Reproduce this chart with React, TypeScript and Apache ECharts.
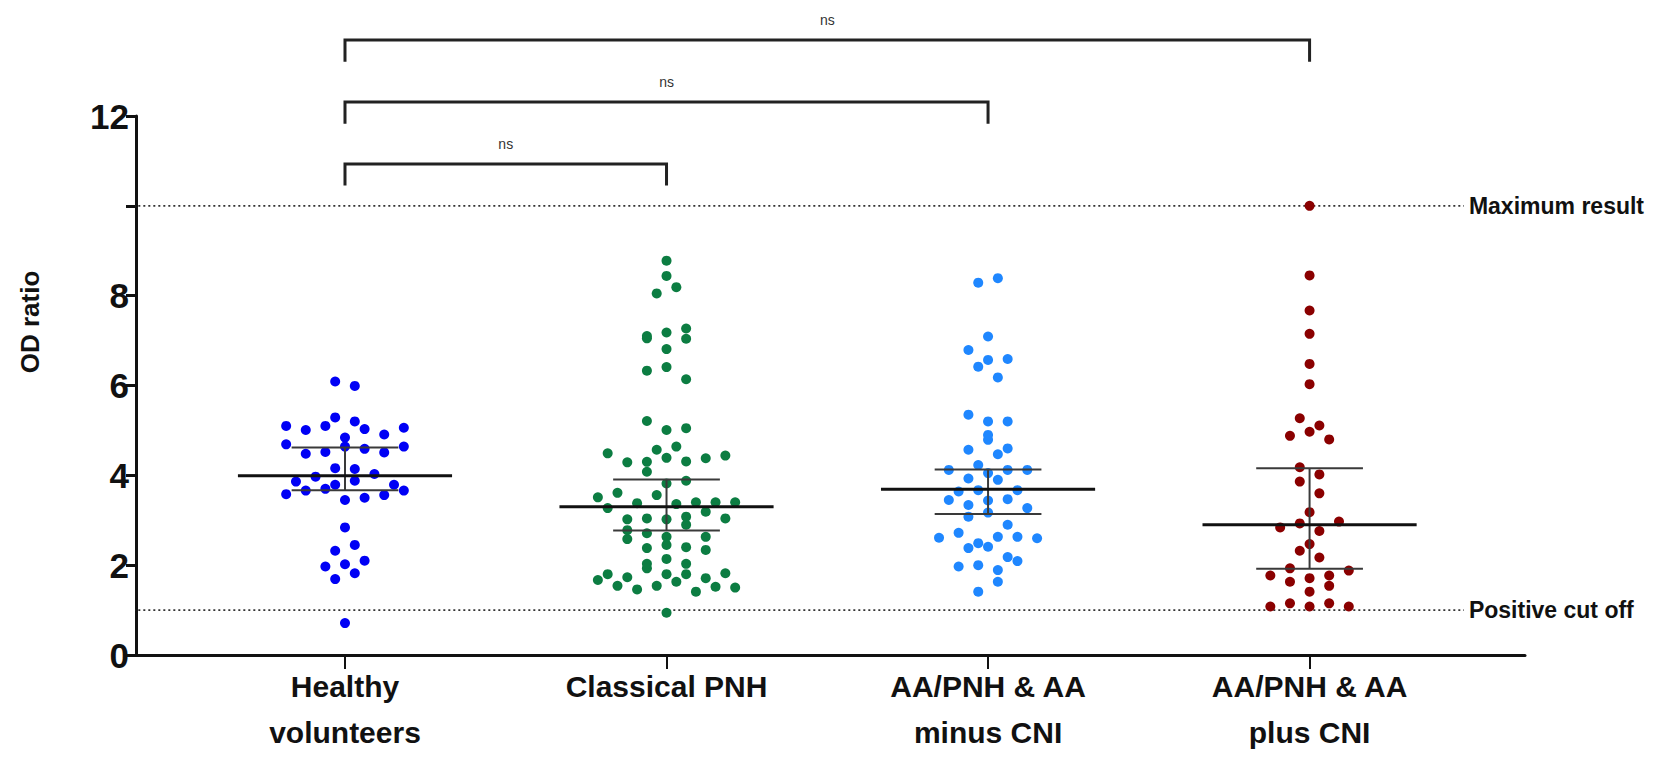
import React, { useEffect, useRef } from "react";
import * as echarts from "echarts";

// ---- data ----
const categories = ["Healthy\nvolunteers", "Classical PNH", "AA/PNH & AA\nminus CNI", "AA/PNH & AA\nplus CNI"];

// values listed column by column (left to right, top to bottom) as seen in the picture
const healthyVolunteers = [
  5.1, 4.69, 3.86, 3.58,
  5.01, 4.48, 3.97, 3.66,
  5.1, 4.84, 4.52, 3.7, 3.45, 1.97,
  6.09, 2.32,
  5.03, 4.64, 4.16, 3.79, 3.5, 2.84, 2.02, 1.69, 0.71,
  5.99, 2.45,
  4.91, 4.59, 4.14, 3.88, 2.1, 1.82,
  5.29, 5.06, 4.51, 4.03, 3.79, 3.56,
  5.2, 4.64, 3.66,
];
const classicalPNH = [
  4.49, 1.67,
  4.29, 3.51, 3.27, 3.02, 1.8, 1.54,
  7.1, 5.21, 4.57, 4.3, 3.61, 3.38, 3.04, 2.78, 2.58, 2.38, 2.03, 1.73, 1.46,
  8.05, 7.05, 6.33, 5.01, 4.39, 4.08, 3.82, 3.56, 3.36, 3.02, 2.71, 2.45, 2.14, 1.54,
  8.78, 8.44, 6.81, 0.94,
  8.19, 7.18, 6.41, 6.14, 5.05, 4.31, 3.88, 3.4, 3.08, 2.63, 2.4, 1.93, 1.8, 1.63, 1.41,
  7.27, 7.04, 4.64, 3.4, 3.19, 2.9, 2.63, 2.34, 2.03, 1.8, 1.52,
  4.38, 3.4, 3.04, 1.71, 1.5,
  4.44, 1.82,
];
const aaMinusCNI = [
  4.12, 3.45, 2.61,
  6.79, 6.42, 5.35, 4.57, 4.23, 3.93, 3.64, 3.34, 3.08, 2.72, 2.49, 1.97,
  1.41,
  8.29, 7.09, 6.57, 6.18, 5.2, 4.79, 4.47, 4.05, 3.67, 3.44, 3.17, 2.63, 2.38, 2.0,
  1.63,
  8.39, 6.59, 5.2, 4.9, 4.6, 4.12, 3.9, 3.67, 3.47, 2.9, 2.63, 2.41, 2.18, 1.89,
  4.12, 3.27, 2.6, 2.09,
];
const aaPlusCNI = [
  2.84, 1.77, 1.08,
  5.27, 4.88, 4.18, 3.18, 2.93, 2.32, 1.93, 1.63, 1.15,
  10.0, 8.45, 7.67, 7.15, 6.48, 6.03, 4.97, 3.86, 3.6, 2.76, 1.71, 1.41, 1.08,
  5.11, 4.8, 4.02, 2.97, 2.47, 2.17, 1.77, 1.54, 1.15,
  1.88, 1.08,
];
const groups = [healthyVolunteers, classicalPNH, aaMinusCNI, aaPlusCNI];

// summary lines (centre line and error bar ends)
const centerValues = [3.99, 3.3, 3.69, 2.9];
const lowerValues = [3.67, 2.77, 3.14, 1.92];
const upperValues = [4.62, 3.91, 4.13, 4.16];

const yTickValues = [0, 2, 4, 6, 8, 10, 12];
const hiddenYLabels = [10];
const referenceValues = [10, 1];
const referenceLabels = ["Maximum result", "Positive cut off"];
const comparisonPairs = [[1, 2], [1, 3], [1, 4]];
const comparisonLabels = ["ns", "ns", "ns"];
const yAxisTitle = "OD ratio";

// ---- styling ----
const groupColors = ["#0000f5", "#0c7d42", "#1f87ff", "#8a0000"];
const FONT = "'Liberation Sans', Arial, Helvetica, sans-serif";
const INK = "#111";

// Prism-like swarm: rows of nearby values spread symmetrically around the group centre
function swarm(values: number[], center: number, rowHeight: number, step: number) {
  const order = values.map((_, i) => i).sort((a, b) => values[a] - values[b] || a - b);
  const rows: number[][] = [];
  let cur: number[] = [];
  let start = -Infinity;
  for (const i of order) {
    if (cur.length && values[i] - start < rowHeight) cur.push(i);
    else {
      if (cur.length) rows.push(cur);
      cur = [i];
      start = values[i];
    }
  }
  if (cur.length) rows.push(cur);
  const out: number[][] = [];
  rows.forEach((row) => {
    row.sort((a, b) => a - b);
    row.forEach((i, k) => out.push([center + (k - (row.length - 1) / 2) * step, values[i]]));
  });
  return out;
}

export default function App() {
  const ref = useRef<HTMLDivElement>(null);

  useEffect(() => {
    if (!ref.current) return;
    const chart = echarts.init(ref.current, undefined, { renderer: "svg" });

    const scatterSeries = groups.map((vals, gi) => ({
      type: "scatter",
      name: categories[gi],
      data: swarm(vals, gi + 1, 0.28, 0.061),
      symbol: "circle",
      symbolSize: 10,
      clip: false,
      itemStyle: { color: groupColors[gi], opacity: 1 },
      z: 2,
    }));

    const referenceSeries = referenceValues.map((v, k) => ({
      type: "line",
      data: [[0.295, v], [4.48, v]],
      symbol: "none",
      clip: false,
      silent: true,
      z: 1,
      lineStyle: { type: [2, 3], color: "#333", width: 1.8 },
      endLabel: {
        show: true,
        formatter: referenceLabels[k],
        distance: 5,
        color: INK,
        fontFamily: FONT,
        fontWeight: "bold",
        fontSize: 23,
      },
    }));

    const summarySeries = {
      type: "custom",
      clip: false,
      z: 3,
      data: centerValues.map((c, i) => [i + 1, c, lowerValues[i], upperValues[i]]),
      renderItem: (params: any, api: any) => {
        const x = api.value(0);
        const c = api.value(1);
        const lo = api.value(2);
        const hi = api.value(3);
        const L = (a: number[], b: number[], w: number, col: string) => ({
          type: "line",
          shape: { x1: a[0], y1: a[1], x2: b[0], y2: b[1] },
          style: { stroke: col, lineWidth: w },
        });
        return {
          type: "group",
          children: [
            L(api.coord([x, lo]), api.coord([x, hi]), 2, "#3a3a3a"),
            L(api.coord([x - 0.166, lo]), api.coord([x + 0.166, lo]), 2, "#3a3a3a"),
            L(api.coord([x - 0.166, hi]), api.coord([x + 0.166, hi]), 2, "#3a3a3a"),
            L(api.coord([x - 0.333, c]), api.coord([x + 0.333, c]), 3, INK),
          ],
        };
      },
    };

    const bracketSeries = {
      type: "custom",
      clip: false,
      z: 3,
      data: comparisonPairs.map((p, i) => [p[0], p[1], i]),
      renderItem: (params: any, api: any) => {
        const a = api.value(0);
        const b = api.value(1);
        const lvl = 10.93 + api.value(2) * 1.38;
        const p1 = api.coord([a, lvl - 0.48]);
        const p2 = api.coord([a, lvl]);
        const p3 = api.coord([b, lvl]);
        const p4 = api.coord([b, lvl - 0.48]);
        const t = api.coord([(a + b) / 2, lvl + 0.45]);
        return {
          type: "group",
          children: [
            {
              type: "polyline",
              shape: { points: [p1, p2, p3, p4] },
              style: { stroke: "#222", lineWidth: 3, fill: "none" },
            },
            {
              type: "text",
              x: t[0],
              y: t[1],
              style: {
                text: comparisonLabels[params.dataIndex],
                fill: "#333",
                fontSize: 14,
                fontFamily: FONT,
                align: "center",
                verticalAlign: "middle",
              },
            },
          ],
        };
      },
    };

    chart.setOption({
      animation: false,
      backgroundColor: "#fff",
      textStyle: { fontFamily: FONT },
      grid: { left: 136, right: 153, top: 116, bottom: 122, containLabel: false },
      graphic: [
        {
          type: "text",
          x: 30,
          y: 322,
          rotation: Math.PI / 2,
          style: {
            text: yAxisTitle,
            fill: INK,
            fontFamily: FONT,
            fontWeight: "bold",
            fontSize: 26,
            align: "center",
            verticalAlign: "middle",
          },
        },
      ],
      xAxis: {
        type: "value",
        min: 0.35,
        max: 4.67,
        axisLine: { show: true, lineStyle: { color: INK, width: 3 } },
        axisTick: { show: true, customValues: [1, 2, 3, 4], length: 14, lineStyle: { color: INK, width: 2 } },
        axisLabel: {
          customValues: [1, 2, 3, 4],
          formatter: (v: number) => categories[Math.round(v) - 1] ?? "",
          color: INK,
          fontFamily: FONT,
          fontWeight: "bold",
          fontSize: 30,
          lineHeight: 46,
          margin: 8,
        },
        splitLine: { show: false },
      },
      yAxis: {
        type: "value",
        min: 0,
        max: 12,
        interval: 2,
        axisLine: { show: true, lineStyle: { color: INK, width: 3 } },
        axisTick: { show: true, length: 10, lineStyle: { color: INK, width: 3 } },
        axisLabel: {
          customValues: yTickValues,
          formatter: (v: number) => (hiddenYLabels.includes(v) ? "" : String(v)),
          color: INK,
          fontFamily: FONT,
          fontWeight: "bold",
          fontSize: 35,
          margin: 7,
        },
        splitLine: { show: false },
      },
      series: [...referenceSeries, ...scatterSeries, summarySeries, bracketSeries],
    });

    return () => chart.dispose();
  }, []);

  return (
    <div
      ref={ref}
      style={{ position: "fixed", left: 0, top: 0, width: 1678, height: 777, background: "#fff" }}
    />
  );
}
